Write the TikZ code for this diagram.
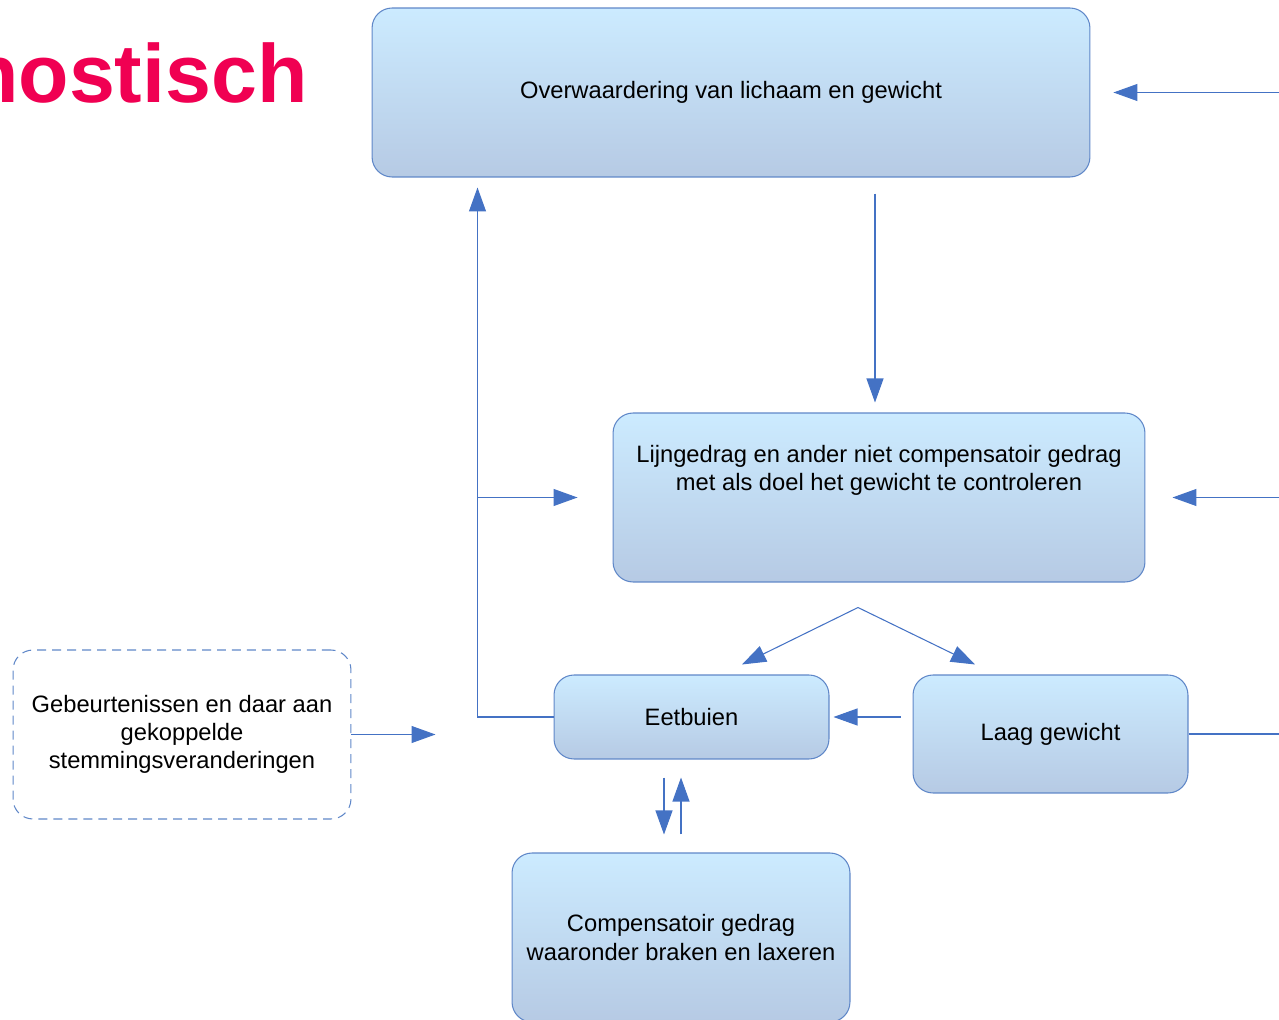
\documentclass[tikz,border=0pt]{standalone}
\usepackage{fontspec}
\setmainfont{Liberation Sans}
\usetikzlibrary{arrows.meta,positioning,calc}
\definecolor{boxtop}{RGB}{204,235,255}
\definecolor{boxbot}{RGB}{182,202,228}
\definecolor{boxline}{RGB}{95,135,200}
\definecolor{arrowblue}{RGB}{68,114,196}
\definecolor{titlered}{RGB}{240,0,82}

\begin{document}
\begin{tikzpicture}[x=0.02cm,y=-0.02cm,font=\fontsize{13.5}{16}\selectfont,
    box/.style={draw=boxline,line width=0.6pt,rounded corners=0.4cm,top color=boxtop,
      bottom color=boxbot,align=center,inner sep=0pt},
    conn/.style={draw=arrowblue,line width=0.6pt,
      -{Triangle[length=0.48cm,width=0.34cm]}}]
      \useasboundingbox (0,0) rectangle (1279,1020);
      \node[font=\fontsize{47}{50}\selectfont\bfseries,text=titlered,anchor=base east,
        inner sep=0pt] (titel) at (308,103) {nostisch};
      \node[box,minimum width=14.36cm,minimum height=3.38cm] (overw) at (731,92.5)
        {Overwaardering van lichaam en gewicht};
      \node[box,minimum width=10.64cm,minimum height=3.38cm] (lijn) at (879,497.5) {};
      \node[align=center,inner sep=0pt] (lijntxt) at ($(lijn.north)+(0,58)$)
        {Lijngedrag en ander niet compensatoir gedrag\\met als doel het gewicht te controleren};
      \node[box,minimum width=5.5cm,minimum height=1.68cm] (eet) at (691.5,717) {Eetbuien};
      \node[box,minimum width=5.5cm,minimum height=2.36cm] (laag) at (1050.5,734)
        {Laag gewicht};
      \node[box,minimum width=6.76cm,minimum height=3.38cm] (comp) at (681,937.5)
        {Compensatoir gedrag\\waaronder braken en laxeren};
      \node[draw=boxline,line width=0.6pt,dash pattern=on 0.18cm off 0.12cm,
        rounded corners=0.4cm,minimum width=6.76cm,minimum height=3.38cm,align=center]
        (gebeurt) at (182,734.5)
        {Gebeurtenissen en daar aan\\gekoppelde\\stemmingsveranderingen};

      \coordinate (rechts) at ($(laag.east)+(120,0)$);
      \coordinate (links) at ($(eet.west)+(-76,0)$);
      \coordinate (splits) at ($(lijn.south)+(-21,25)$);
      \coordinate (omlaag) at ($(lijn.north)+(-4,0)$);
      \draw[conn,shorten >=0.46cm] (laag.east) -- (rechts) |- (overw.east);
      \draw[conn,shorten >=0.54cm] (rechts |- lijn.east) -- (lijn.east);
      \draw[conn,shorten <=0.32cm,shorten >=0.2cm] (overw.south -| omlaag) -- (omlaag);
      \draw[conn] (splits) -- ($(eet.north)+(50.5,-10)$);
      \draw[conn] (splits) -- ($(laag.north)+(-75.5,-10)$);
      \draw[conn,shorten >=0.2cm] (eet.west) -- (links) -- (links |- overw.south);
      \draw[conn,shorten >=0.7cm] (links |- lijn.west) -- (lijn.west);
      \draw[conn,shorten >=0.08cm] ($(laag.west |- eet.east)+(-12,0)$) -- (eet.east);
      \draw[conn] (gebeurt.east) -- ++(84,0);
      \draw[conn] ($(eet.south)+(-27.5,18)$) -- ($(comp.north)+(-17,-18)$);
      \draw[conn] ($(comp.north)+(0,-18)$) -- ($(eet.south)+(-10.5,18)$);
    \end{tikzpicture}
\end{document}
